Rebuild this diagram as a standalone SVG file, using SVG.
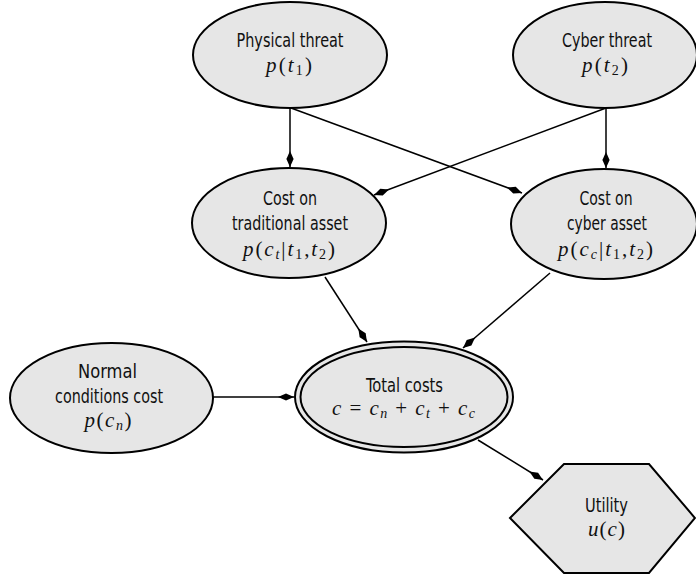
<svg xmlns="http://www.w3.org/2000/svg" width="696" height="577" viewBox="0 0 696 577">
<style>
.node{fill:#e6e6e6;stroke:#000;stroke-width:2}
.dbl{fill:none;stroke:#000;stroke-width:2}
.lbl{font-family:"DejaVu Sans Condensed","DejaVu Sans","Liberation Sans Narrow","Liberation Sans",sans-serif;font-stretch:condensed;font-size:19px;fill:#111;text-anchor:middle}
.math{font-family:"Liberation Serif","DejaVu Serif",serif;font-size:21px;fill:#111;text-anchor:middle}
.i{font-style:italic}
.s{font-size:14px}
.edge{stroke:#000;stroke-width:1.5;fill:none;marker-end:url(#ah)}
</style>
<defs>
<marker id="ah" viewBox="-18 -5 19 10" refX="0" refY="0" markerWidth="19" markerHeight="10" orient="auto" markerUnits="userSpaceOnUse">
<path d="M0,0 L-8,-3.6 L-16,0 L-8,3.6 Z" fill="#000"/>
</marker>
</defs>
<rect width="696" height="577" fill="#fff"/>
<g id="edges">
<line class="edge" x1="290" y1="108" x2="290" y2="167"/>
<line class="edge" x1="291" y1="108" x2="522" y2="193"/>
<line class="edge" x1="606" y1="108" x2="374" y2="195"/>
<line class="edge" x1="606" y1="108" x2="606" y2="168"/>
<line class="edge" x1="325" y1="277" x2="367" y2="342"/>
<line class="edge" x1="550" y1="273" x2="463" y2="348"/>
<line class="edge" x1="213" y1="397" x2="294" y2="397"/>
<line class="edge" x1="478" y1="440" x2="543" y2="480"/>
</g>
<g id="physical">
<ellipse class="node" cx="290" cy="55" rx="97" ry="53"/>
<text class="lbl" x="290" y="47" textLength="107" lengthAdjust="spacingAndGlyphs">Physical threat</text>
<text class="math" x="289" y="72" textLength="46" lengthAdjust="spacing"><tspan class="i">p</tspan>(<tspan class="i">t</tspan><tspan class="s" dy="3">1</tspan><tspan dy="-3">)</tspan></text>
</g>
<g id="cyber">
<ellipse class="node" cx="605" cy="55" rx="92" ry="53"/>
<text class="lbl" x="607" y="47" textLength="90" lengthAdjust="spacingAndGlyphs">Cyber threat</text>
<text class="math" x="605" y="72" textLength="46" lengthAdjust="spacing"><tspan class="i">p</tspan>(<tspan class="i">t</tspan><tspan class="s" dy="3">2</tspan><tspan dy="-3">)</tspan></text>
</g>
<g id="trad">
<ellipse class="node" cx="289" cy="223" rx="97" ry="55"/>
<text class="lbl" x="290" y="205" textLength="54" lengthAdjust="spacingAndGlyphs">Cost on</text>
<text class="lbl" x="290" y="230" textLength="116" lengthAdjust="spacingAndGlyphs">traditional asset</text>
<text class="math" x="289" y="256" textLength="92" lengthAdjust="spacing"><tspan class="i">p</tspan>(<tspan class="i">c</tspan><tspan class="s i" dy="3">t</tspan><tspan dy="-3">|</tspan><tspan class="i">t</tspan><tspan class="s" dy="3">1</tspan><tspan dy="-3">,</tspan><tspan class="i">t</tspan><tspan class="s" dy="3">2</tspan><tspan dy="-3">)</tspan></text>
</g>
<g id="cyberasset">
<ellipse class="node" cx="604" cy="224" rx="93" ry="55"/>
<text class="lbl" x="606" y="205" textLength="53" lengthAdjust="spacingAndGlyphs">Cost on</text>
<text class="lbl" x="607" y="230" textLength="80" lengthAdjust="spacingAndGlyphs">cyber asset</text>
<text class="math" x="605.5" y="256" textLength="95" lengthAdjust="spacing"><tspan class="i">p</tspan>(<tspan class="i">c</tspan><tspan class="s i" dy="3">c</tspan><tspan dy="-3">|</tspan><tspan class="i">t</tspan><tspan class="s" dy="3">1</tspan><tspan dy="-3">,</tspan><tspan class="i">t</tspan><tspan class="s" dy="3">2</tspan><tspan dy="-3">)</tspan></text>
</g>
<g id="normal">
<ellipse class="node" cx="111.5" cy="398" rx="101.5" ry="55"/>
<text class="lbl" x="107.5" y="378" textLength="59" lengthAdjust="spacingAndGlyphs">Normal</text>
<text class="lbl" x="109" y="403" textLength="108" lengthAdjust="spacingAndGlyphs">conditions cost</text>
<text class="math" x="108" y="427" textLength="47" lengthAdjust="spacing"><tspan class="i">p</tspan>(<tspan class="i">c</tspan><tspan class="s i" dy="3">n</tspan><tspan dy="-3">)</tspan></text>
</g>
<g id="total">
<ellipse class="node" cx="404" cy="397" rx="109" ry="55.5"/>
<ellipse class="dbl" cx="404" cy="397" rx="103.5" ry="50"/>
<text class="lbl" x="404.5" y="392" textLength="77" lengthAdjust="spacingAndGlyphs">Total costs</text>
<text class="math" x="403.5" y="415" textLength="143" lengthAdjust="spacing"><tspan class="i">c</tspan> = <tspan class="i">c</tspan><tspan class="s i" dy="3">n</tspan><tspan dy="-3"> + </tspan><tspan class="i">c</tspan><tspan class="s i" dy="3">t</tspan><tspan dy="-3"> + </tspan><tspan class="i">c</tspan><tspan class="s i" dy="3">c</tspan></text>
</g>
<g id="utility">
<polygon class="node" points="510,518 564,464 649,464 695,518 649,573 564,573"/>
<text class="lbl" x="606.5" y="512" textLength="43" lengthAdjust="spacingAndGlyphs">Utility</text>
<text class="math" x="606.5" y="536" textLength="37" lengthAdjust="spacing"><tspan class="i">u</tspan>(<tspan class="i">c</tspan>)</text>
</g>
</svg>
